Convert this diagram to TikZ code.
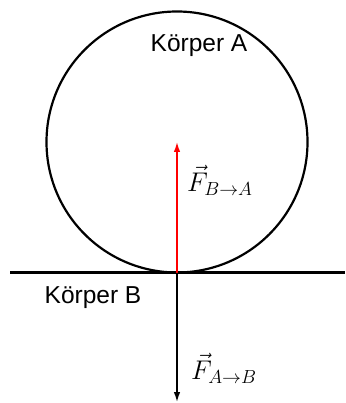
\RequirePackage{fix-cm}
\documentclass[tikz,border=0pt]{standalone}
\usepackage{fontspec}
\setsansfont{Liberation Sans}
\usetikzlibrary{arrows.meta}
\begin{document}
\begin{tikzpicture}[x=1pt,y=-1pt,
  lbl/.style={font=\sffamily\fontsize{24.5}{28}\selectfont, inner sep=0pt},
  mlbl/.style={font=\fontsize{27}{31}\selectfont, inner sep=0pt, anchor=west},
  force/.style={line width=2.2pt, -{Latex[length=11pt,width=6.5pt]}}]
\useasboundingbox (0,0) rectangle (345,403);
\node[circle, draw, line width=2.2pt, minimum size=261pt, inner sep=0pt] (bodyA) at (177,142) {};
\coordinate (contact) at (177,272.5);
\coordinate (gl) at (10,272.5);
\coordinate (gr) at (345,272.5);
\coordinate (tipA) at (177,141);
\coordinate (tipB) at (177,403);
\draw[line width=2.2pt] (gl) -- (gr);
\draw[force, red] (contact) -- (tipA);
\draw[force, black] (contact) -- (tipB);
\node[lbl] (labA) at (199,46) {Körper A};
\node[lbl] (labB) at (93,298) {Körper B};
\node[mlbl] (fBA) at (187,180) {$\vec{F}_{B\rightarrow A}$};
\node[mlbl] (fAB) at (191,368) {$\vec{F}_{A\rightarrow B}$};
\end{tikzpicture}
\end{document}
